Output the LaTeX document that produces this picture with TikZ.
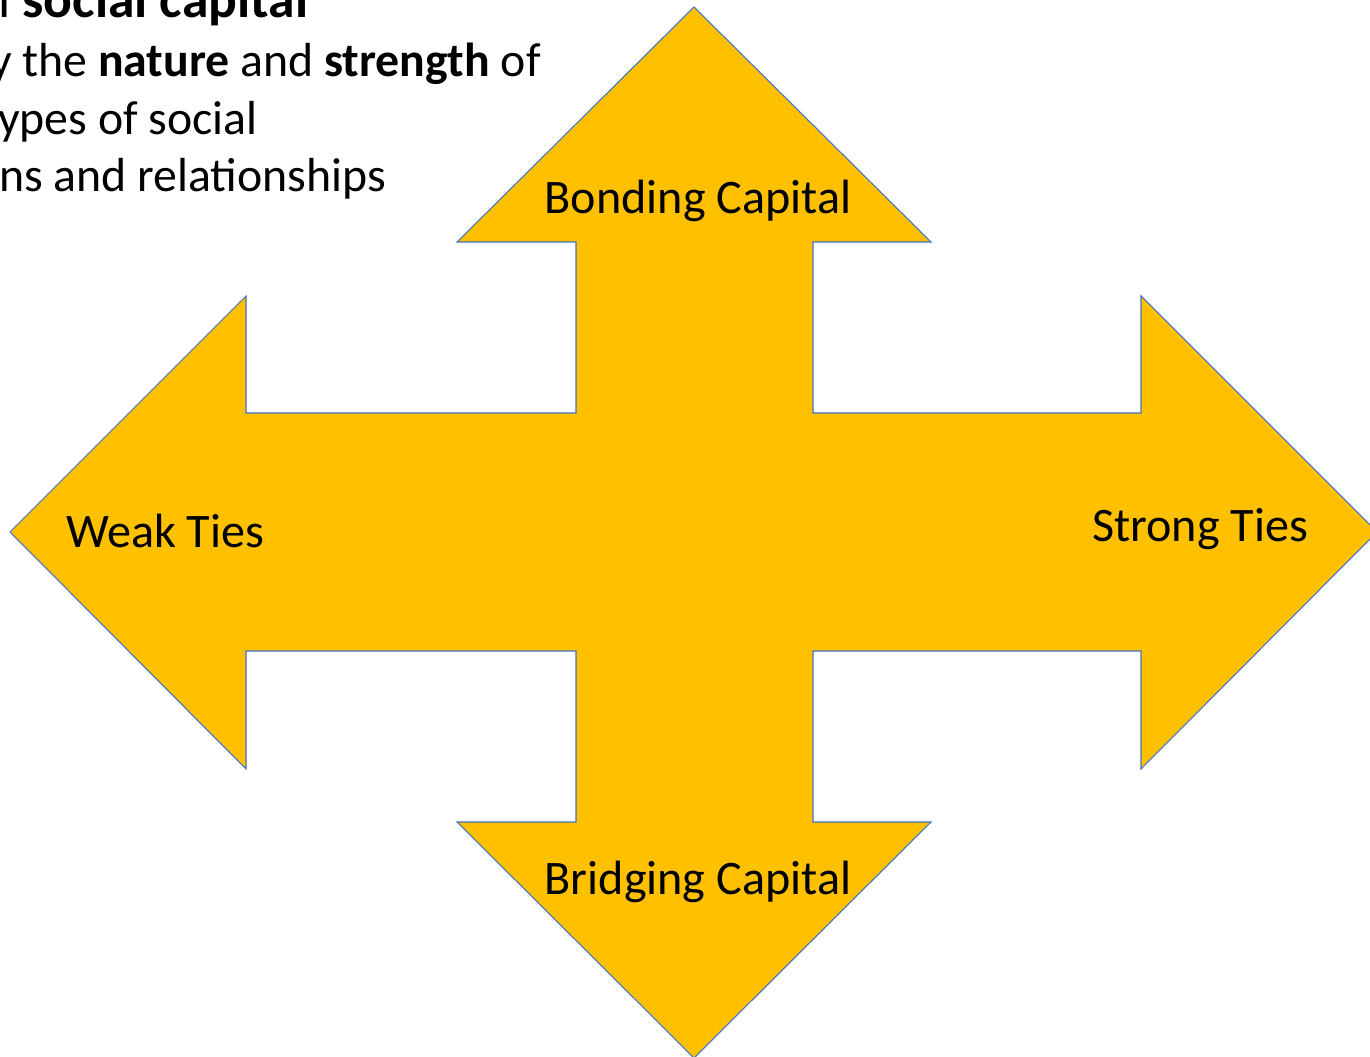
\documentclass[tikz,border=0pt]{standalone}
\usepackage{fontspec}
\setmainfont{Carlito}
\usetikzlibrary{
    calc,
    positioning
}
\definecolor{capgold}{HTML}{FFC000}
\definecolor{capblue}{HTML}{4472C4}
\tikzset{
    every picture/.style = {
        x = 0.02cm,
        y = -0.02cm
    },
    crossarrow/.style = {
        fill = capgold,
        draw = capblue,
        line width = 0.6pt,
        line join = miter
    },
    captext/.style = {
        inner sep = 0pt,
        outer sep = 0pt,
        font = \fontsize{27.4}{32}\selectfont
    },
    slidetext/.style = {
        inner sep = 0pt,
        outer sep = 0pt,
        anchor = base west,
        font = \fontsize{27.2}{33}\selectfont
    }
}

\begin{document}
\begin{tikzpicture}
    \useasboundingbox (0,0) rectangle (1370,1057);

    % four-way arrow
    \draw[crossarrow] (694,7) -- (931,242) -- (813,242) -- (813,413)
        -- (1141,413) -- (1141,296) -- (1377,532) -- (1141,769)
        -- (1141,651) -- (813,651) -- (813,822) -- (931,822)
        -- (694,1058) -- (457,822) -- (576,822) -- (576,651)
        -- (246,651) -- (246,769) -- (10,532) -- (246,296)
        -- (246,413) -- (576,413) -- (576,242) -- (457,242) -- cycle;

    % labels
    \node[captext, anchor = base] (bond) at (698,214) {Bonding Capital};
    \node[captext, anchor = base] (bridge) at (698,894) {Bridging Capital};
    \node[captext, anchor = base west] (weak) at (66,548) {Weak Ties};
    \node[captext, anchor = base east] (strong) at (1308,541) {Strong Ties};

    % slide text, cut at the left edge
    \node[slidetext, font = \fontsize{30.5}{36}\selectfont] (line1) at (-2,18) {l \textbf{social capital}};
    \node[slidetext] (line2) at (-10,77) {y the \textbf{nature} and \textbf{strength} of};
    \node[slidetext] (line3) at (-2,135) {ypes of social};
    \node[slidetext] (line4) at (-1,192) {ns and relationships};
\end{tikzpicture}
\end{document}
